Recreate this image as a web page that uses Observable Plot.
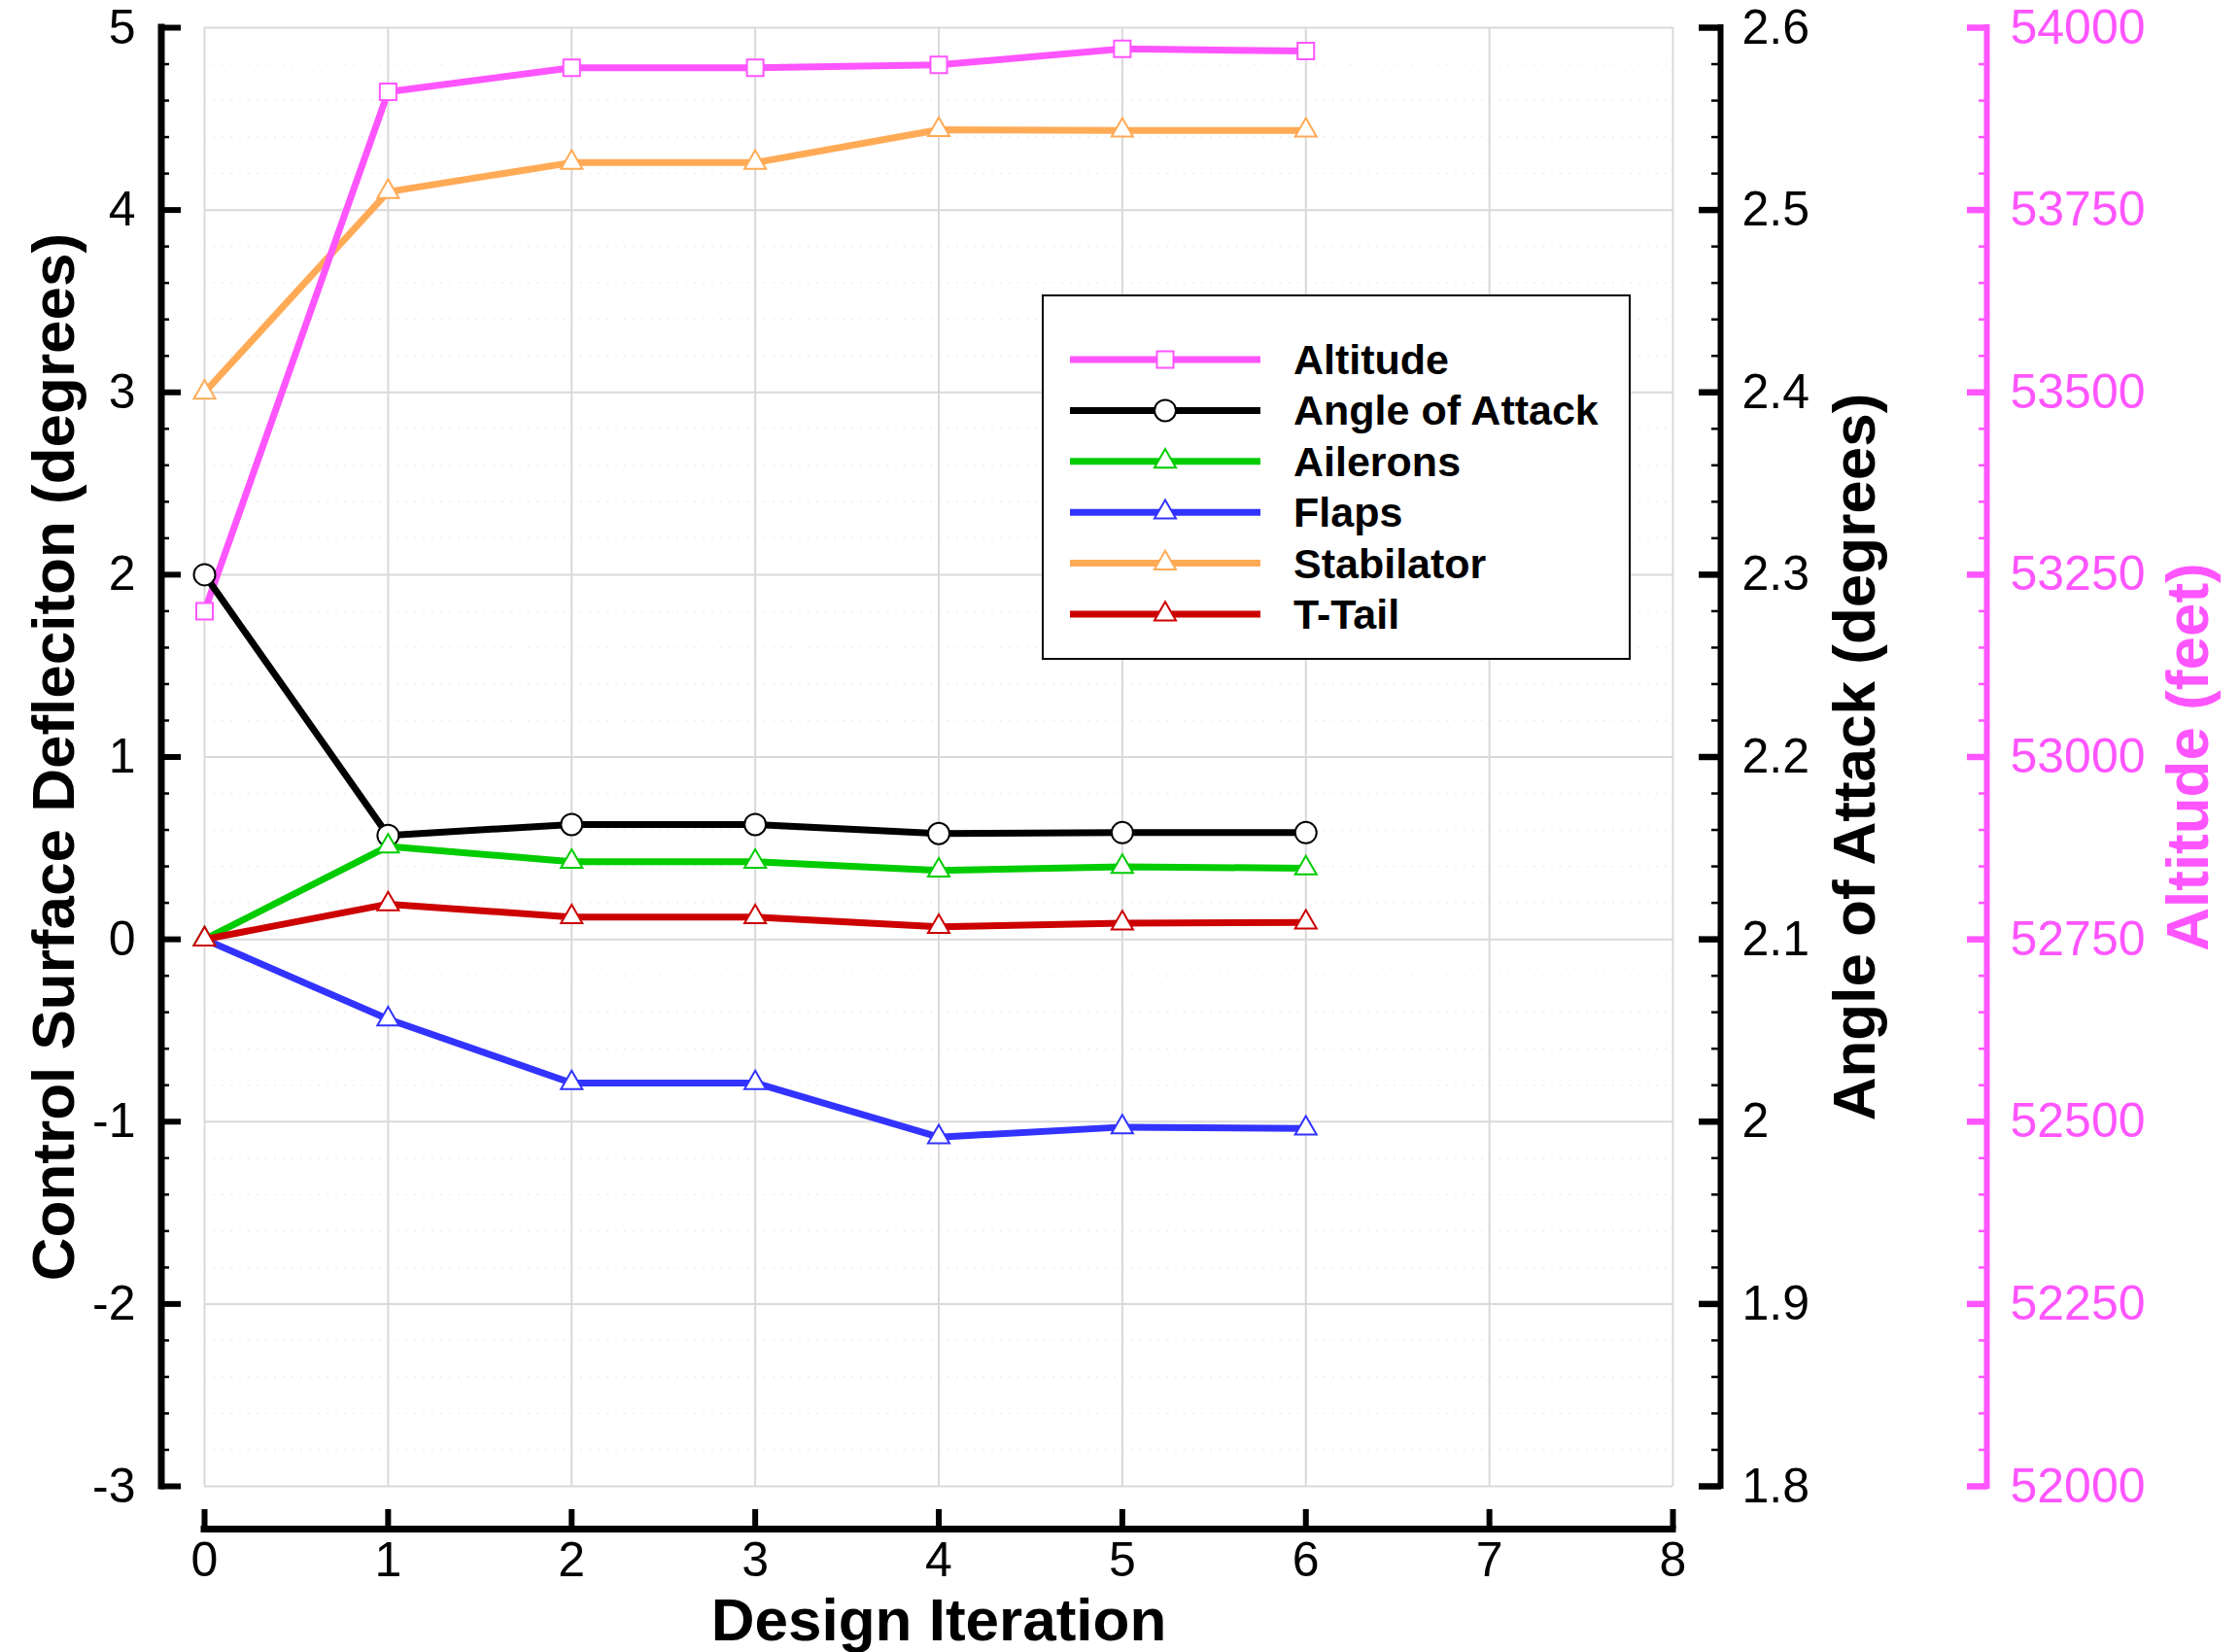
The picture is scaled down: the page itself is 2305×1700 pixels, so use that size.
<!DOCTYPE html>
<html>
<head>
<meta charset="utf-8">
<script src="https://cdn.jsdelivr.net/npm/d3@7"></script>
<script src="https://cdn.jsdelivr.net/npm/@observablehq/plot@0.6"></script>
<style>
  html, body { margin: 0; padding: 0; background: #fff; }
  #chart { position: relative; width: 2305px; height: 1700px; background: #fff;
           font-family: "Liberation Sans", Arial, Helvetica, sans-serif; }
  #chart > svg, #chart > .legend { position: absolute; left: 0; top: 0; }
</style>
</head>
<body>
<div id="chart"></div>
<script>
// ---- data -------------------------------------------------------------
const iterations = [0, 1, 2, 3, 4, 5, 6];
const altitude = [53200, 53912, 53945, 53945, 53949, 53971, 53968];   // feet
const angleOfAttack = [2.3, 2.157, 2.163, 2.163, 2.158, 2.1585, 2.1585]; // degrees
const ailerons = [0, 0.51, 0.426, 0.426, 0.378, 0.398, 0.39];
const flaps = [0, -0.438, -0.788, -0.788, -1.085, -1.03, -1.037];
const stabilator = [3.0, 4.10, 4.26, 4.26, 4.44, 4.437, 4.437];
const tTail = [0, 0.193, 0.122, 0.122, 0.069, 0.088, 0.093];

// ---- tick labels ------------------------------------------------------
const iterationTicks = [0, 1, 2, 3, 4, 5, 6, 7, 8];
const deflectionTicks = [-3, -2, -1, 0, 1, 2, 3, 4, 5];
const aoaTicks = [1.8, 1.9, 2, 2.1, 2.2, 2.3, 2.4, 2.5, 2.6];
const altitudeTicks = [52000, 52250, 52500, 52750, 53000, 53250, 53500, 53750, 54000];

// ---- styling ----------------------------------------------------------
const MAGENTA = "#ff55ff";
const GREEN = "#00cc00";
const BLUE = "#3333ff";
const ORANGE = "#ffaa55";
const RED = "#cc0000";
const GRID = "#d9d9d9";
const FONT = "'Liberation Sans', Arial, Helvetica, sans-serif";

// The plot shares one vertical scale (control surface deflection, degrees);
// angle of attack and altitude are mapped linearly onto it for their own axes.
const aoaToY = a => (a - 2.1) * 10;
const altToY = h => (h - 52750) / 250;
const yToAoa = y => Math.round((2.1 + y / 10) * 100) / 100;
const yToAlt = y => Math.round(52750 + y * 250);

// minor tick positions (five subdivisions per major interval)
const minorY = d3.range(-3, 5.0001, 0.2).map(v => Math.round(v * 10) / 10)
  .filter(v => !Number.isInteger(v));

// series in drawing order
const series = [
  {name: "Stabilator", y: stabilator, color: ORANGE, symbol: "triangle", r: 8.2},
  {name: "Altitude", y: altitude.map(altToY), color: MAGENTA, symbol: "square", r: 9.6},
  {name: "Angle of Attack", y: angleOfAttack.map(aoaToY), color: "black", symbol: "circle", r: 11},
  {name: "Flaps", y: flaps, color: BLUE, symbol: "triangle", r: 8.2},
  {name: "Ailerons", y: ailerons, color: GREEN, symbol: "triangle", r: 8.2},
  {name: "T-Tail", y: tTail, color: RED, symbol: "triangle", r: 8.2}
];

const seriesMarks = series.flatMap(s => {
  const rows = iterations.map((x, i) => ({x, y: s.y[i]}));
  return [
    Plot.line(rows, {x: "x", y: "y", stroke: s.color, strokeWidth: 7,
                     strokeLinejoin: "round", strokeLinecap: "butt"}),
    Plot.dot(rows, {x: "x", y: "y", symbol: s.symbol, r: s.r, fill: "white",
                    stroke: s.color, strokeWidth: 2})
  ];
});

const W = 2305, H = 1700;
const M = {left: 210, right: 584, top: 28, bottom: 171};

const titleStyle = {text: d => d, rotate: -90, textAnchor: "middle", lineAnchor: "middle",
                    fontSize: 62, fontWeight: "bold"};

const plot = Plot.plot({
  width: W,
  height: H,
  marginLeft: M.left,
  marginRight: M.right,
  marginTop: M.top,
  marginBottom: M.bottom,
  style: {fontFamily: FONT, fontSize: "50px", color: "black", background: "transparent"},
  x: {domain: [0, 8]},
  y: {domain: [-3, 5]},
  marks: [
    // faint dotted minor grid
    Plot.gridY(minorY, {stroke: "#efefef", strokeOpacity: 1, strokeWidth: 1.5, strokeDasharray: "2,7"}),
    // major grid (also forms the frame)
    Plot.gridX(iterationTicks, {stroke: GRID, strokeOpacity: 1, strokeWidth: 2}),
    Plot.gridY(deflectionTicks, {stroke: GRID, strokeOpacity: 1, strokeWidth: 2}),

    // left axis: control surface deflection
    Plot.ruleX([0], {y1: -3, y2: 5, dx: -44.5, stroke: "black", strokeWidth: 7, strokeLinecap: "square"}),
    Plot.axisY(deflectionTicks, {anchor: "left", dx: -24, tickSize: 21, tickPadding: 26,
      strokeWidth: 6, fontSize: 50, tickFormat: d => String(d), label: null}),
    Plot.axisY(minorY, {anchor: "left", dx: -36, tickSize: 9, strokeWidth: 2.5,
      tickFormat: () => "", label: null}),

    // bottom axis: design iteration
    Plot.ruleY([-3], {x1: 0, x2: 8, dy: 44, stroke: "black", strokeWidth: 7, strokeLinecap: "square"}),
    Plot.axisX(iterationTicks, {anchor: "bottom", dy: 24, tickSize: 20, tickPadding: 13,
      strokeWidth: 6, fontSize: 50, tickFormat: d => String(d), label: null}),

    // right axis: angle of attack
    Plot.ruleX([8], {y1: -3, y2: 5, dx: 49, stroke: "black", strokeWidth: 6, strokeLinecap: "square"}),
    Plot.axisY(aoaTicks.map(aoaToY), {anchor: "right", dx: 26, tickSize: 23, tickPadding: 22,
      strokeWidth: 6.5, fontSize: 50, tickFormat: d => String(yToAoa(d)), label: null}),
    Plot.axisY(minorY, {anchor: "right", dx: 39, tickSize: 10, strokeWidth: 2.5,
      tickFormat: () => "", label: null}),

    // far right axis: altitude
    Plot.ruleX([8], {y1: -3, y2: 5, dx: 323, stroke: MAGENTA, strokeWidth: 6, strokeLinecap: "square"}),
    Plot.axisY(altitudeTicks.map(altToY), {anchor: "right", dx: 302, tickSize: 21, tickPadding: 24,
      strokeWidth: 6.5, fontSize: 50, color: MAGENTA, tickFormat: d => String(yToAlt(d)), label: null}),
    Plot.axisY(minorY, {anchor: "right", dx: 314, tickSize: 9, strokeWidth: 2.5, color: MAGENTA,
      tickFormat: () => "", label: null}),

    // axis titles
    Plot.text(["Control Surface Defleciton (degrees)"], {...titleStyle, frameAnchor: "left",
      dx: 56 - M.left, fill: "black"}),
    Plot.text(["Angle of Attack (degrees)"], {...titleStyle, frameAnchor: "right",
      dx: 1909 - (W - M.right), fill: "black"}),
    Plot.text(["Altitude (feet)"], {...titleStyle, frameAnchor: "right",
      dx: 2252 - (W - M.right), fill: MAGENTA}),
    Plot.text(["Design Iteration"], {text: d => d, frameAnchor: "bottom", textAnchor: "middle",
      lineAnchor: "middle", dy: 139, fontSize: 62, fontWeight: "bold", fill: "black"}),

    ...seriesMarks
  ]
});

const chart = document.getElementById("chart");
chart.appendChild(plot);

// ---- legend (inside the plot area, upper right) -----------------------
const legendEntries = [
  {name: "Altitude", color: MAGENTA, symbol: d3.symbolSquare, r: 9.6},
  {name: "Angle of Attack", color: "black", symbol: null, r: 11},
  {name: "Ailerons", color: GREEN, symbol: d3.symbolTriangle, r: 8.2},
  {name: "Flaps", color: BLUE, symbol: d3.symbolTriangle, r: 8.2},
  {name: "Stabilator", color: ORANGE, symbol: d3.symbolTriangle, r: 8.2},
  {name: "T-Tail", color: RED, symbol: d3.symbolTriangle, r: 8.2}
];

const LW = 606, LH = 376;
const legend = d3.create("svg")
  .attr("class", "legend")
  .attr("width", LW)
  .attr("height", LH)
  .style("left", "1072px")
  .style("top", "303px")
  .style("font-family", FONT);

legend.append("rect")
  .attr("x", 1).attr("y", 1).attr("width", LW - 2).attr("height", LH - 2)
  .attr("fill", "white").attr("stroke", "black").attr("stroke-width", 2);

const row = legend.selectAll("g.row").data(legendEntries).join("g")
  .attr("class", "row")
  .attr("transform", (d, i) => `translate(0,${67 + i * 52.4})`);

row.append("line")
  .attr("x1", 29).attr("x2", 225).attr("y1", 0).attr("y2", 0)
  .attr("stroke", d => d.color).attr("stroke-width", 7);

row.each(function(d) {
  const g = d3.select(this);
  if (d.symbol) {
    g.append("path")
      .attr("transform", "translate(127,0)")
      .attr("d", d3.symbol(d.symbol, Math.PI * d.r * d.r)())
      .attr("fill", "white").attr("stroke", d.color).attr("stroke-width", 2);
  } else {
    g.append("circle").attr("cx", 127).attr("cy", 0).attr("r", d.r)
      .attr("fill", "white").attr("stroke", d.color).attr("stroke-width", 2);
  }
});

row.append("text")
  .attr("x", 259).attr("y", 0).attr("dy", "0.35em")
  .attr("font-size", 43).attr("font-weight", "bold").attr("fill", "black")
  .text(d => d.name);

chart.appendChild(legend.node());
</script>
</body>
</html>
